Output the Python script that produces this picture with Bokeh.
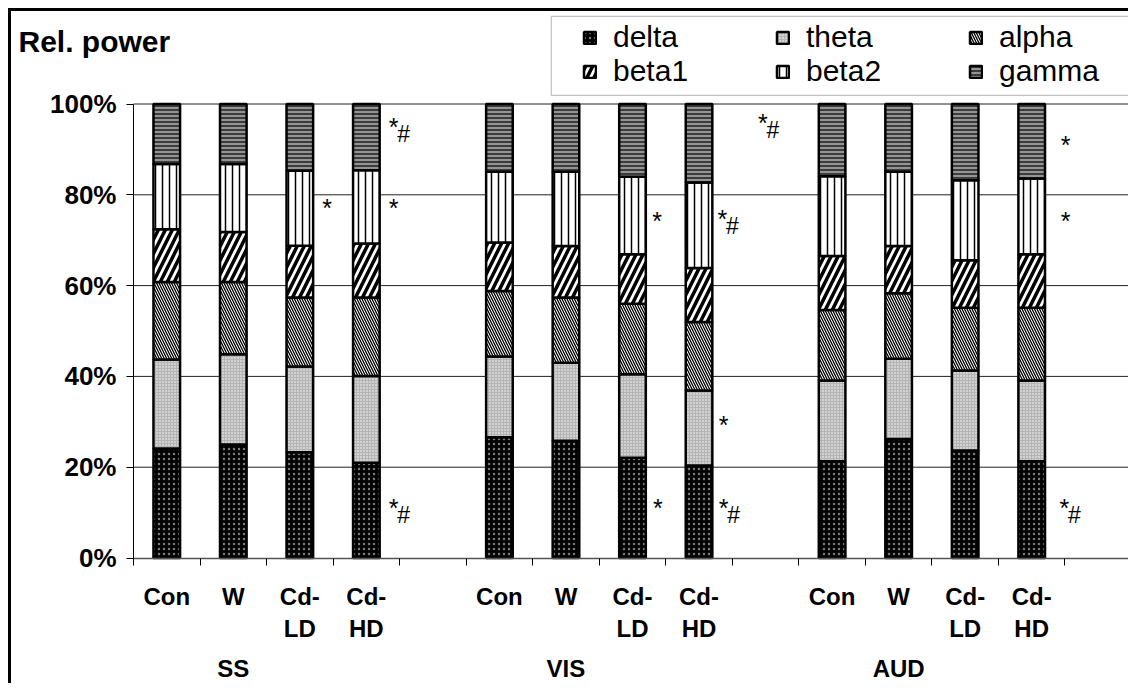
from bokeh.plotting import figure
from bokeh.models import (ColumnDataSource, FixedTicker, LinearAxis, Legend, LegendItem,
                          Range1d, BoxAnnotation)
from bokeh.core.properties import value
from bokeh.embed import file_html
from bokeh.resources import INLINE

# ---------------- data ----------------
groups = ["SS", "VIS", "AUD"]
conditions = ["Con", "W", "Cd-LD", "Cd-HD"]
cond_line1 = ["Con", "W", "Cd-", "Cd-"]
cond_line2 = ["", "", "LD", "HD"]
bands = ["delta", "theta", "alpha", "beta1", "beta2", "gamma"]

# relative power (%) per bar, order: SS(Con,W,Cd-LD,Cd-HD), VIS(...), AUD(...)
delta = [24.1, 25.0, 23.3, 21.0, 26.6, 25.8, 22.1, 20.4, 21.3, 26.2, 23.7, 21.3]
theta = [19.6, 19.9, 18.9, 19.1, 17.8, 17.2, 18.4, 16.5, 17.8, 17.7, 17.6, 17.8]
alpha = [17.1, 15.9, 15.2, 17.3, 14.4, 14.4, 15.5, 15.1, 15.5, 14.4, 13.8, 16.0]
beta1 = [11.6, 11.0, 11.4, 11.9, 10.7, 11.3, 10.9, 11.9, 11.9, 10.4, 10.5, 11.8]
beta2 = [14.4, 15.0, 16.5, 16.1, 15.6, 16.4, 17.1, 18.8, 17.6, 16.4, 17.6, 16.7]
gamma = [13.2, 13.2, 14.7, 14.6, 14.9, 14.9, 16.0, 17.3, 15.9, 14.9, 16.8, 16.4]

y_ticks = [0, 20, 40, 60, 80, 100]
y_tick_labels = ["0%", "20%", "40%", "60%", "80%", "100%"]

# significance marks: slot-x, level (%), text
sig_x = [2.91, 3.91, 3.91, 3.91, 7.87, 8.85, 9.46, 8.87, 7.88, 8.87, 14.01, 14.01, 13.99]
sig_y = [77.6, 77.6, 95.6, 11.6, 74.8, 75.2, 96.4, 29.8, 11.6, 11.6, 91.5, 74.8, 11.6]
sig_txt = ["*", "*", "*#", "*#", "*", "*#", "*#", "*", "*", "*#", "*", "*", "*#"]

title_text = "Rel. power"

# ---------------- layout ----------------
SLOTS_PER_GROUP = 5
n_slots = SLOTS_PER_GROUP * len(groups)
xs = []
for g in range(len(groups)):
    for c in range(len(conditions)):
        xs.append(g * SLOTS_PER_GROUP + c + 0.5)

FONT = "Liberation Sans"
W, H = 1120, 675
BORDER_L, BORDER_T, BORDER_B = 2, 2, 0
FRAME_W = W - BORDER_L
FRAME_H = H - BORDER_T - BORDER_B
AXIS_PX = 120                    # pixels from frame left to the value axis
SLOT_PX = (FRAME_W - AXIS_PX) / n_slots
X_START = -AXIS_PX / SLOT_PX
PX_PER_PCT = 4.54
ZERO_PX = 544.5                  # pixels from frame top to the 0% line
Y_TOP = ZERO_PX / PX_PER_PCT
Y_BOTTOM = -(FRAME_H - ZERO_PX) / PX_PER_PCT

p = figure(width=W, height=H, output_backend="svg", toolbar_location=None,
           x_range=Range1d(X_START, n_slots), y_range=Range1d(Y_BOTTOM, Y_TOP),
           min_border_left=BORDER_L, min_border_right=0, min_border_top=BORDER_T,
           min_border_bottom=BORDER_B)
p.styles = {"margin-left": "8px", "margin-top": "8px",
            "border-left": "3px solid black", "border-top": "3px solid black"}
p.background_fill_color = "white"
p.border_fill_color = "white"
p.outline_line_color = None

src = ColumnDataSource(dict(x=xs, delta=delta, theta=theta, alpha=alpha,
                            beta1=beta1, beta2=beta2, gamma=gamma))

fills = ["black", "#b4b4b4", "white", "white", "white", "#949494"]
hatches = [".", ".", "\\", "/", "|", "-"]
hcolors = ["#7a7a7a", "white", "black", "black", "black", "black"]
hscales = [5, 3, 5, 14, 7, 4]
hweights = [0.9, 1.5, 1.3, 3.5, 1.5, 1.2]

rs = p.vbar_stack(bands, x="x", width=0.4, source=src,
                  fill_color=fills, hatch_pattern=hatches, hatch_color=hcolors,
                  hatch_scale=hscales, hatch_weight=hweights,
                  line_color="black", line_width=2.5)

# horizontal grid lines (only across the plot area) and right edge
grid_y = [t for t in y_ticks if t > 0]
p.segment(x0=[0] * len(grid_y), y0=grid_y, x1=[n_slots] * len(grid_y), y1=grid_y,
          line_color="#222222", line_width=1, level="underlay")
p.segment(x0=[n_slots], y0=[0], x1=[n_slots], y1=[100], line_color="#333333",
          line_width=2, level="underlay")
p.xgrid.visible = False
p.ygrid.visible = False

# y axis drawn at x = 0 inside the frame
ya = p.yaxis[0]
ya.fixed_location = 0
ya.ticker = FixedTicker(ticks=y_ticks, minor_ticks=[])
ya.bounds = (0, 100)
ya.major_label_overrides = {t: l for t, l in zip(y_ticks, y_tick_labels)}
ya.major_label_text_font = FONT
ya.major_label_text_font_style = "bold"
ya.major_label_text_font_size = "26px"
ya.major_label_text_color = "black"
ya.major_label_standoff = 10
ya.major_tick_out = 7
ya.major_tick_in = 0
ya.axis_line_color = "black"

# x axis at y = 0: ticks at slot boundaries (minor), first label line at bar centres
xa = p.xaxis[0]
xa.fixed_location = 0
xa.ticker = FixedTicker(ticks=xs, minor_ticks=list(range(0, n_slots + 1)))
xa.bounds = (0, n_slots)
xa.major_label_overrides = {x: cond_line1[i % 4] for i, x in enumerate(xs)}
xa.major_tick_out = 0
xa.major_tick_in = 0
xa.minor_tick_out = 7
xa.minor_tick_in = 0
xa.minor_tick_line_color = "black"
xa.axis_line_color = "#555555"
xa.axis_line_width = 1.5
xa.major_label_standoff = 18


def label_axis(ticks, labels, standoff):
    ax = LinearAxis(ticker=FixedTicker(ticks=ticks, minor_ticks=[]), fixed_location=0)
    ax.major_label_overrides = {t: l for t, l in zip(ticks, labels)}
    ax.axis_line_color = None
    ax.major_tick_line_color = None
    ax.minor_tick_line_color = None
    ax.major_tick_out = 0
    ax.major_tick_in = 0
    ax.major_label_standoff = standoff
    return ax


ld_ticks = [x for i, x in enumerate(xs) if cond_line2[i % 4]]
ld_labels = [cond_line2[i % 4] for i, x in enumerate(xs) if cond_line2[i % 4]]
ax2 = label_axis(ld_ticks, ld_labels, 57)
grp_ticks = [g * SLOTS_PER_GROUP + 1.5 for g in range(len(groups))]
ax3 = label_axis(grp_ticks, groups, 97)

for ax in [xa, ax2, ax3]:
    ax.major_label_text_font = FONT
    ax.major_label_text_font_style = "bold"
    ax.major_label_text_font_size = "24px"
    ax.major_label_text_color = "black"
p.add_layout(ax2, "below")
p.add_layout(ax3, "below")

# significance marks
star_x, star_y, hash_x, hash_y = [], [], [], []
for x, y, t in zip(sig_x, sig_y, sig_txt):
    star_x.append(x)
    star_y.append(y - 0.6)
    if "#" in t:
        hash_x.append(x + 0.15)
        hash_y.append(y - 2.1)
p.text(x=star_x, y=star_y, text=["*"] * len(star_x), text_align="center",
       text_baseline="alphabetic", text_font=value(FONT), text_font_size="25px",
       text_color="black")
p.text(x=hash_x, y=hash_y, text=["#"] * len(hash_x), text_align="center",
       text_baseline="alphabetic", text_font=value(FONT), text_font_size="23px",
       text_color="black")

# title text (inside the frame, left of the value axis)
p.text(x=[X_START + 5 / SLOT_PX], y=[113.8], text=[title_text], text_align="left",
       text_baseline="alphabetic", text_font=value(FONT), text_font_size="30px",
       text_font_style="bold", text_color="black")

# legend: three columns of two rows, inside a framed box
p.add_layout(BoxAnnotation(left=6.28, right=n_slots - 0.04, bottom=101.9, top=119.3,
                           fill_color=None, line_color="#333333", line_width=1.2))
col_px = [569, 762, 955]
legend_bottom_px = FRAME_H - 75   # legend bottom edge, measured up from the frame bottom
for ci in range(3):
    items = [LegendItem(label=bands[ci + 3 * r], renderers=[rs[ci + 3 * r]]) for r in range(2)]
    lg = Legend(items=items, orientation="vertical", location=(col_px[ci], legend_bottom_px))
    lg.label_text_font = FONT
    lg.label_text_font_size = "30px"
    lg.label_text_color = "black"
    lg.glyph_width = 15
    lg.glyph_height = 15
    lg.label_standoff = 16
    lg.label_height = 32
    lg.spacing = 0
    lg.padding = 0
    lg.margin = 0
    lg.border_line_color = None
    lg.background_fill_alpha = 0
    p.add_layout(lg)

open("out.html", "w").write(file_html(p, INLINE))
